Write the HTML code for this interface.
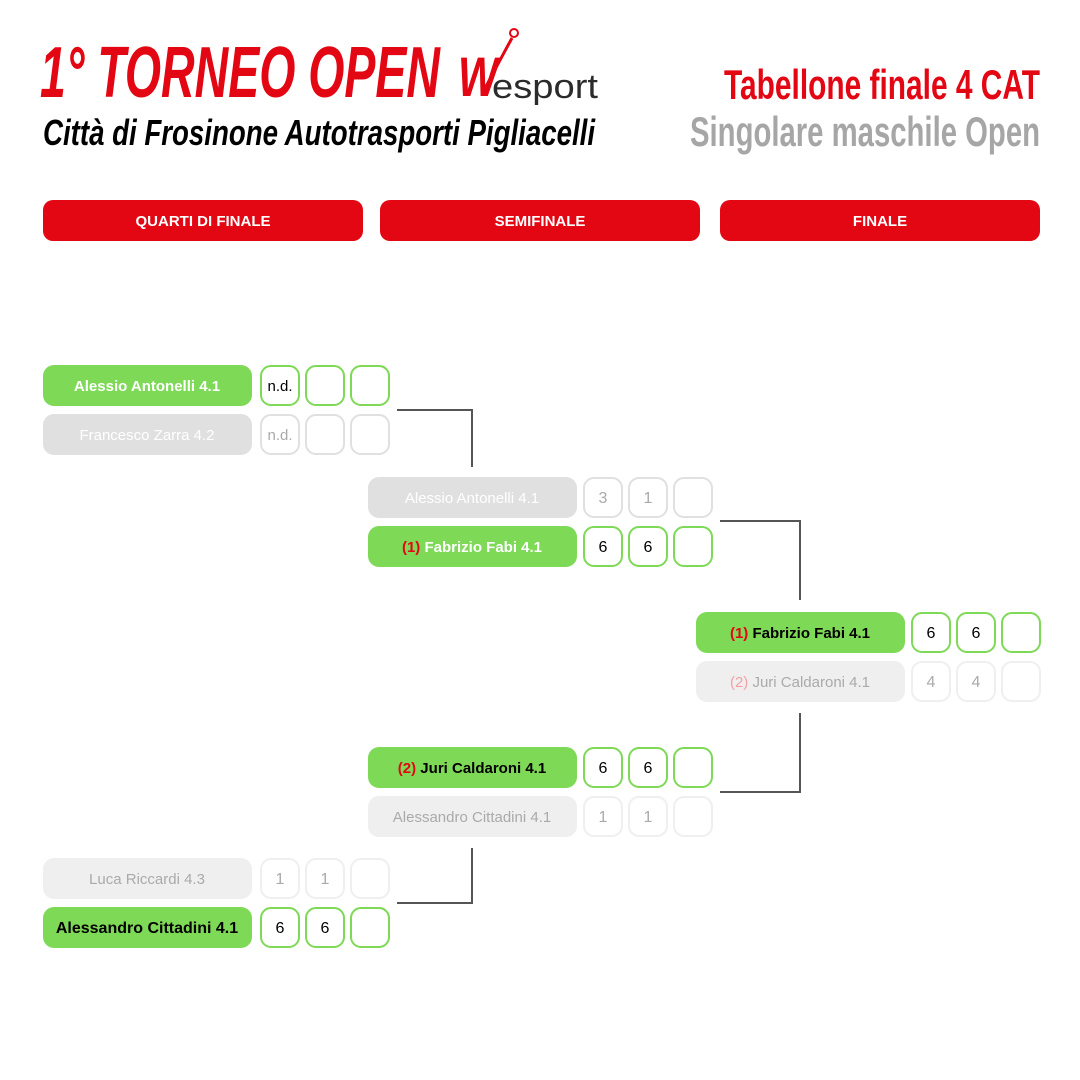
<!DOCTYPE html>
<html><head><meta charset="utf-8"><style>
html,body{margin:0;padding:0;background:#fff;width:1080px;height:1080px;overflow:hidden}
svg{display:block}
text{font-family:"Liberation Sans",sans-serif}
</style></head><body>
<svg width="1080" height="1080" viewBox="0 0 1080 1080" xmlns="http://www.w3.org/2000/svg">
<!-- Title -->
<text x="40" y="97" font-size="72" font-weight="bold" font-style="italic" fill="#e30613" textLength="400" lengthAdjust="spacingAndGlyphs">1° TORNEO OPEN</text>
<text x="458" y="96" font-size="56" font-style="italic" font-weight="bold" fill="#e30613" font-family="Liberation Serif,serif" textLength="40" lengthAdjust="spacingAndGlyphs">W</text>
<path d="M482 94 Q500 60 512 38" stroke="#e30613" stroke-width="3" fill="none"/>
<circle cx="514" cy="33" r="4" stroke="#e30613" stroke-width="2" fill="none"/>
<text x="492" y="98" font-size="34" fill="#2b2b2b" textLength="106" lengthAdjust="spacingAndGlyphs">esport</text>
<text x="43" y="145" font-size="36" font-weight="bold" font-style="italic" fill="#000" textLength="552" lengthAdjust="spacingAndGlyphs">Città di Frosinone Autotrasporti Pigliacelli</text>
<text x="1040" y="99" font-size="42" font-weight="bold" fill="#e30613" text-anchor="end" textLength="316" lengthAdjust="spacingAndGlyphs">Tabellone finale 4 CAT</text>
<text x="1040" y="146" font-size="42" font-weight="bold" fill="#a6a6a6" text-anchor="end" textLength="350" lengthAdjust="spacingAndGlyphs">Singolare maschile Open</text>

<!-- Headers -->
<g font-size="15" font-weight="bold" fill="#fff" text-anchor="middle">
<rect x="43" y="200" width="320" height="41" rx="10" fill="#e30613"/>
<rect x="380" y="200" width="320" height="41" rx="10" fill="#e30613"/>
<rect x="720" y="200" width="320" height="41" rx="10" fill="#e30613"/>
<text x="203" y="226">QUARTI DI FINALE</text>
<text x="540" y="226">SEMIFINALE</text>
<text x="880" y="226">FINALE</text>
</g>

<!-- Connectors -->
<g stroke="#555" stroke-width="2" fill="none">
<path d="M397 410 H472 V467"/>
<path d="M720 521 H800 V600"/>
<path d="M800 713 V792 H720"/>
<path d="M472 848 V903 H397"/>
</g>

<g font-size="15" text-anchor="middle">
<!-- QF1 -->
<rect x="43" y="365" width="209" height="41" rx="11" fill="#7ed957"/>
<text x="147" y="391" fill="#fff" font-weight="bold">Alessio Antonelli 4.1</text>
<g fill="#fff" stroke="#7ed957" stroke-width="2">
<rect x="261" y="366" width="38" height="39" rx="10"/><rect x="306" y="366" width="38" height="39" rx="10"/><rect x="351" y="366" width="38" height="39" rx="10"/></g>
<text x="280" y="391" fill="#000">n.d.</text>
<rect x="43" y="414" width="209" height="41" rx="11" fill="#e0e0e0"/>
<text x="147" y="440" fill="#fff">Francesco Zarra 4.2</text>
<g fill="#fff" stroke="#e0e0e0" stroke-width="2">
<rect x="261" y="415" width="38" height="39" rx="10"/><rect x="306" y="415" width="38" height="39" rx="10"/><rect x="351" y="415" width="38" height="39" rx="10"/></g>
<text x="280" y="440" fill="#aaa">n.d.</text>

<!-- SF1 -->
<rect x="368" y="477" width="209" height="41" rx="11" fill="#e0e0e0"/>
<text x="472" y="503" fill="#fff">Alessio Antonelli 4.1</text>
<g fill="#fff" stroke="#e0e0e0" stroke-width="2">
<rect x="584" y="478" width="38" height="39" rx="10"/><rect x="629" y="478" width="38" height="39" rx="10"/><rect x="674" y="478" width="38" height="39" rx="10"/></g>
<g font-size="16"><text x="603" y="503" fill="#aaa">3</text><text x="648" y="503" fill="#aaa">1</text></g>
<rect x="368" y="526" width="209" height="41" rx="11" fill="#7ed957"/>
<text x="472" y="552" fill="#fff" font-weight="bold"><tspan fill="#e30613">(1)</tspan> Fabrizio Fabi 4.1</text>
<g fill="#fff" stroke="#7ed957" stroke-width="2">
<rect x="584" y="527" width="38" height="39" rx="10"/><rect x="629" y="527" width="38" height="39" rx="10"/><rect x="674" y="527" width="38" height="39" rx="10"/></g>
<g font-size="16"><text x="603" y="552" fill="#000">6</text><text x="648" y="552" fill="#000">6</text></g>

<!-- Final -->
<rect x="696" y="612" width="209" height="41" rx="11" fill="#7ed957"/>
<text x="800" y="638" fill="#000" font-weight="bold"><tspan fill="#e30613">(1)</tspan> Fabrizio Fabi 4.1</text>
<g fill="#fff" stroke="#7ed957" stroke-width="2">
<rect x="912" y="613" width="38" height="39" rx="10"/><rect x="957" y="613" width="38" height="39" rx="10"/><rect x="1002" y="613" width="38" height="39" rx="10"/></g>
<g font-size="16"><text x="931" y="638" fill="#000">6</text><text x="976" y="638" fill="#000">6</text></g>
<rect x="696" y="661" width="209" height="41" rx="11" fill="#efefef"/>
<text x="800" y="687" fill="#aaa"><tspan fill="#f4a0a6">(2)</tspan> Juri Caldaroni 4.1</text>
<g fill="#fff" stroke="#efefef" stroke-width="2">
<rect x="912" y="662" width="38" height="39" rx="10"/><rect x="957" y="662" width="38" height="39" rx="10"/><rect x="1002" y="662" width="38" height="39" rx="10"/></g>
<g font-size="16"><text x="931" y="687" fill="#aaa">4</text><text x="976" y="687" fill="#aaa">4</text></g>

<!-- SF2 -->
<rect x="368" y="747" width="209" height="41" rx="11" fill="#7ed957"/>
<text x="472" y="773" fill="#000" font-weight="bold"><tspan fill="#e30613">(2)</tspan> Juri Caldaroni 4.1</text>
<g fill="#fff" stroke="#7ed957" stroke-width="2">
<rect x="584" y="748" width="38" height="39" rx="10"/><rect x="629" y="748" width="38" height="39" rx="10"/><rect x="674" y="748" width="38" height="39" rx="10"/></g>
<g font-size="16"><text x="603" y="773" fill="#000">6</text><text x="648" y="773" fill="#000">6</text></g>
<rect x="368" y="796" width="209" height="41" rx="11" fill="#efefef"/>
<text x="472" y="822" fill="#aaa">Alessandro Cittadini 4.1</text>
<g fill="#fff" stroke="#efefef" stroke-width="2">
<rect x="584" y="797" width="38" height="39" rx="10"/><rect x="629" y="797" width="38" height="39" rx="10"/><rect x="674" y="797" width="38" height="39" rx="10"/></g>
<g font-size="16"><text x="603" y="822" fill="#aaa">1</text><text x="648" y="822" fill="#aaa">1</text></g>

<!-- QF2 -->
<rect x="43" y="858" width="209" height="41" rx="11" fill="#efefef"/>
<text x="147" y="884" fill="#aaa">Luca Riccardi 4.3</text>
<g fill="#fff" stroke="#efefef" stroke-width="2">
<rect x="261" y="859" width="38" height="39" rx="10"/><rect x="306" y="859" width="38" height="39" rx="10"/><rect x="351" y="859" width="38" height="39" rx="10"/></g>
<g font-size="16"><text x="280" y="884" fill="#aaa">1</text><text x="325" y="884" fill="#aaa">1</text></g>
<rect x="43" y="907" width="209" height="41" rx="11" fill="#7ed957"/>
<text x="147" y="933" fill="#000" font-weight="bold" font-size="16">Alessandro Cittadini 4.1</text>
<g fill="#fff" stroke="#7ed957" stroke-width="2">
<rect x="261" y="908" width="38" height="39" rx="10"/><rect x="306" y="908" width="38" height="39" rx="10"/><rect x="351" y="908" width="38" height="39" rx="10"/></g>
<g font-size="16"><text x="280" y="933" fill="#000">6</text><text x="325" y="933" fill="#000">6</text></g>
</g>
</svg>
</body></html>
